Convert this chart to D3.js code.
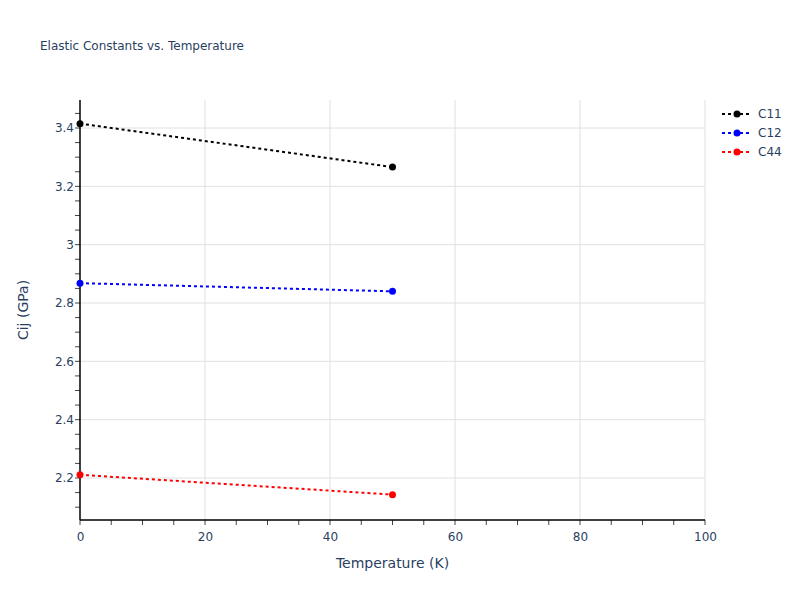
<!DOCTYPE html>
<html><head><meta charset="utf-8">
<script src="https://cdn.jsdelivr.net/npm/d3@7"></script>
<style>body{margin:0;background:#fff;font-family:"DejaVu Sans",Verdana,sans-serif;}</style>
</head><body><div id="chart"></div>
<script>
const temperatures = [0, 50];
const seriesNames = ["C11", "C12", "C44"];
const c11 = [3.415, 3.266];
const c12 = [2.868, 2.840];
const c44 = [2.211, 2.143];
const seriesColors = ["#000000", "#0000ff", "#ff0000"];
const xTicks = [0, 20, 40, 60, 80, 100];
const yTicks = [2.2, 2.4, 2.6, 2.8, 3.0, 3.2, 3.4];

const W = 800, H = 600;
const m = {l: 80, r: 95, t: 100, b: 80};
const FONT = "'DejaVu Sans',Verdana,sans-serif";
const svg = d3.select("#chart").append("svg").attr("width", W).attr("height", H)
  .style("font-family", FONT);
const x = d3.scaleLinear().domain([0, 100]).range([m.l, W - m.r]);
const y = d3.scaleLinear().domain([2.056, 3.496]).range([H - m.b, m.t]);
const txt = "#2a3f5f";

// grid
svg.append("g").selectAll("line").data(xTicks.filter(d => d > 0)).join("line")
  .attr("x1", d => x(d)).attr("x2", d => x(d)).attr("y1", m.t).attr("y2", H - m.b)
  .attr("stroke", "#e0e0e0").attr("stroke-width", 1);
svg.append("g").selectAll("line").data(yTicks).join("line")
  .attr("x1", m.l).attr("x2", W - m.r).attr("y1", d => y(d)).attr("y2", d => y(d))
  .attr("stroke", "#e0e0e0").attr("stroke-width", 1);

// axes
const xAxis = d3.axisBottom(x).tickValues(xTicks).tickSize(0).tickPadding(12).tickFormat(d3.format("d"));
const gx = svg.append("g").attr("transform", `translate(0,${H - m.b})`).call(xAxis);
gx.select(".domain").remove();
gx.selectAll("text").attr("fill", txt).style("font-size", "12px").style("font-family", FONT);
const xMinor = d3.range(0, 101, 5);
svg.append("g").selectAll("line").data(xMinor).join("line")
  .attr("x1", d => x(d)).attr("x2", d => x(d)).attr("y1", H - m.b).attr("y2", H - m.b + 5)
  .attr("stroke", "#444").attr("stroke-width", 1);

const yAxis = d3.axisLeft(y).tickValues(yTicks).tickSize(0).tickPadding(6).tickFormat(d => d3.format("")(+d.toFixed(1)));
const gy = svg.append("g").attr("transform", `translate(${m.l},0)`).call(yAxis);
gy.select(".domain").remove();
gy.selectAll("text").attr("fill", txt).style("font-size", "12px").style("font-family", FONT);
const yMinor = d3.range(2.1, 3.5, 0.05).map(v => +v.toFixed(2));
svg.append("g").selectAll("line").data(yMinor).join("line")
  .attr("x1", m.l - 5).attr("x2", m.l).attr("y1", d => y(d)).attr("y2", d => y(d))
  .attr("stroke", "#444").attr("stroke-width", 1);

svg.append("line").attr("x1", m.l).attr("x2", m.l).attr("y1", m.t).attr("y2", H - m.b).attr("stroke", "#000").attr("stroke-width", 1.5);
svg.append("line").attr("x1", m.l).attr("x2", W - m.r).attr("y1", H - m.b).attr("y2", H - m.b).attr("stroke", "#000").attr("stroke-width", 1.5);

// series
const allSeries = [c11, c12, c44];
const line = d3.line().x((d, i) => x(temperatures[i])).y(d => y(d));
allSeries.forEach((s, k) => {
  svg.append("path").datum(s).attr("d", line).attr("fill", "none")
    .attr("stroke", seriesColors[k]).attr("stroke-width", 2).attr("stroke-dasharray", "3,3");
  svg.append("g").selectAll("circle").data(s).join("circle")
    .attr("cx", (d, i) => x(temperatures[i])).attr("cy", d => y(d)).attr("r", 3.5)
    .attr("fill", seriesColors[k]);
});

// title
svg.append("text").attr("x", 40).attr("y", 50).text("Elastic Constants vs. Temperature")
  .attr("fill", txt).style("font-size", "12px");
svg.append("text").attr("x", x(50)).attr("y", 568).attr("text-anchor", "middle")
  .text("Temperature (K)").attr("fill", txt).style("font-size", "14px");
svg.append("text").attr("transform", `translate(28,${y(2.776)}) rotate(-90)`).attr("text-anchor", "middle")
  .text("Cij (GPa)").attr("fill", txt).style("font-size", "14px");

// legend
const lg = svg.append("g");
seriesNames.forEach((n, k) => {
  const yy = 114 + k * 19;
  lg.append("line").attr("x1", 722).attr("x2", 752).attr("y1", yy).attr("y2", yy)
    .attr("stroke", seriesColors[k]).attr("stroke-width", 2).attr("stroke-dasharray", "3,3");
  lg.append("circle").attr("cx", 737).attr("cy", yy).attr("r", 3.5).attr("fill", seriesColors[k]);
  lg.append("text").attr("x", 758).attr("y", yy + 4).text(n).attr("fill", txt).style("font-size", "12px");
});
</script></body></html>
